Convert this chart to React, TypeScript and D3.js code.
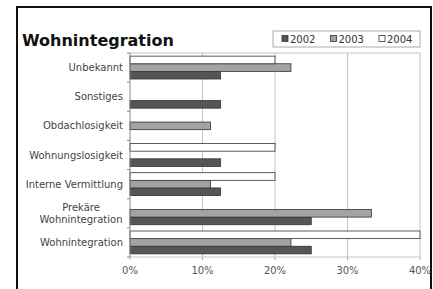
import * as d3 from 'd3';

const categories = [
    'Unbekannt',
    'Sonstiges',
    'Obdachlosigkeit',
    'Wohnungslosigkeit',
    'Interne Vermittlung',
    'Prekäre Wohnintegration',
    'Wohnintegration'
];
// Anteile in %
const values2002 = [12.5, 12.5, 0, 12.5, 12.5, 25, 25];
const values2003 = [22.2, 0, 11.1, 0, 11.1, 33.3, 22.2];
const values2004 = [20, 0, 0, 20, 20, 0, 40];
const seriesNames = ['2002', '2003', '2004'];
const xTicks = [0, 10, 20, 30, 40];

const W = 433;
const H = 289;
const plot = { left: 130, right: 420, top: 53, bottom: 257 };
const fills: Record<string, string> = { '2002': '#555555', '2003': '#a3a3a3', '2004': '#ffffff' };

const labelLines = (c: string) => (c === 'Prekäre Wohnintegration' ? ['Prekäre', 'Wohnintegration'] : [c]);

export default function App() {
    const x = d3.scaleLinear().domain([0, 40]).range([plot.left, plot.right]);
    const y0 = d3.scaleBand<string>().domain(categories).range([plot.top, plot.bottom]).paddingInner(0.215).paddingOuter(0.1075);
    // 2004 oben, 2002 unten
    const y1 = d3.scaleBand<string>().domain(['2004', '2003', '2002']).range([0, y0.bandwidth()]);
    const step = y0.step();

    const series: Record<string, number[]> = { '2002': values2002, '2003': values2003, '2004': values2004 };

    const legendX = d3.scalePoint<string>().domain(seriesNames).range([282, 379]);

    return (
        <svg width={W} height={H} style={{ position: 'absolute', left: 0, top: 0 }} fontFamily="DejaVu Sans">
            <rect x={0} y={0} width={W} height={H} fill="#fff" />
            <rect x={17} y={7} width={414} height={300} fill="none" stroke="#111" strokeWidth={2} />
            <text x={22} y={46} fontSize={16} fontWeight="bold" fill="#111">
                Wohnintegration
            </text>

            {/* Legende */}
            <rect x={273} y={31} width={147} height={16} fill="#fff" stroke="#aaa" strokeWidth={1} />
            {seriesNames.map((s) => (
                <g key={s}>
                    <rect x={legendX(s)!} y={35.5} width={6} height={6} fill={fills[s]} stroke="#333" strokeWidth={0.8} />
                    <text x={legendX(s)! + 8} y={42.5} fontSize={10} fill="#333">
                        {s}
                    </text>
                </g>
            ))}

            {/* Gitter */}
            {xTicks.slice(1).map((t) => (
                <line key={t} x1={x(t)} x2={x(t)} y1={plot.top} y2={plot.bottom} stroke="#c4c4c4" strokeWidth={1} />
            ))}
            <line x1={plot.left} x2={plot.right} y1={plot.top} y2={plot.top} stroke="#c4c4c4" />
            <line x1={plot.left} x2={plot.right} y1={plot.bottom} y2={plot.bottom} stroke="#c4c4c4" />

            {/* Balken */}
            {categories.map((c, i) =>
                seriesNames.map((s) => {
                    const v = series[s][i];
                    if (!v) return null;
                    return (
                        <rect
                            key={c + s}
                            x={x(0)}
                            y={y0(c)! + y1(s)!}
                            width={x(v) - x(0)}
                            height={y1.bandwidth()}
                            fill={fills[s]}
                            stroke="#333"
                            strokeWidth={0.8}
                        />
                    );
                })
            )}

            {/* Achsen */}
            <line x1={plot.left} x2={plot.left} y1={plot.top} y2={plot.bottom} stroke="#888" />
            {d3.range(categories.length + 1).map((k) => (
                <line key={k} x1={plot.left - 3} x2={plot.left} y1={plot.top + k * step} y2={plot.top + k * step} stroke="#888" />
            ))}
            {xTicks.map((t) => (
                <line key={t} x1={x(t)} x2={x(t)} y1={plot.bottom} y2={plot.bottom + 3} stroke="#aaa" />
            ))}

            {categories.map((c) => {
                const lines = labelLines(c);
                const cy = y0(c)! + y0.bandwidth() / 2;
                const multi = lines.length > 1;
                // mehrzeilige Beschriftung zentriert, Block rechtsbündig
                return (
                    <text key={c} x={multi ? 81 : 123} textAnchor={multi ? 'middle' : 'end'} fontSize={10} fill="#444">
                        {lines.map((l, j) => (
                            <tspan key={l} x={multi ? 81 : 123} y={cy + 3.5 + (j - (lines.length - 1) / 2) * 11.5}>
                                {l}
                            </tspan>
                        ))}
                    </text>
                );
            })}

            {xTicks.map((t) => (
                <text key={t} x={x(t)} y={274} fontSize={10} fill="#555" textAnchor="middle">
                    {t}%
                </text>
            ))}
        </svg>
    );
}
